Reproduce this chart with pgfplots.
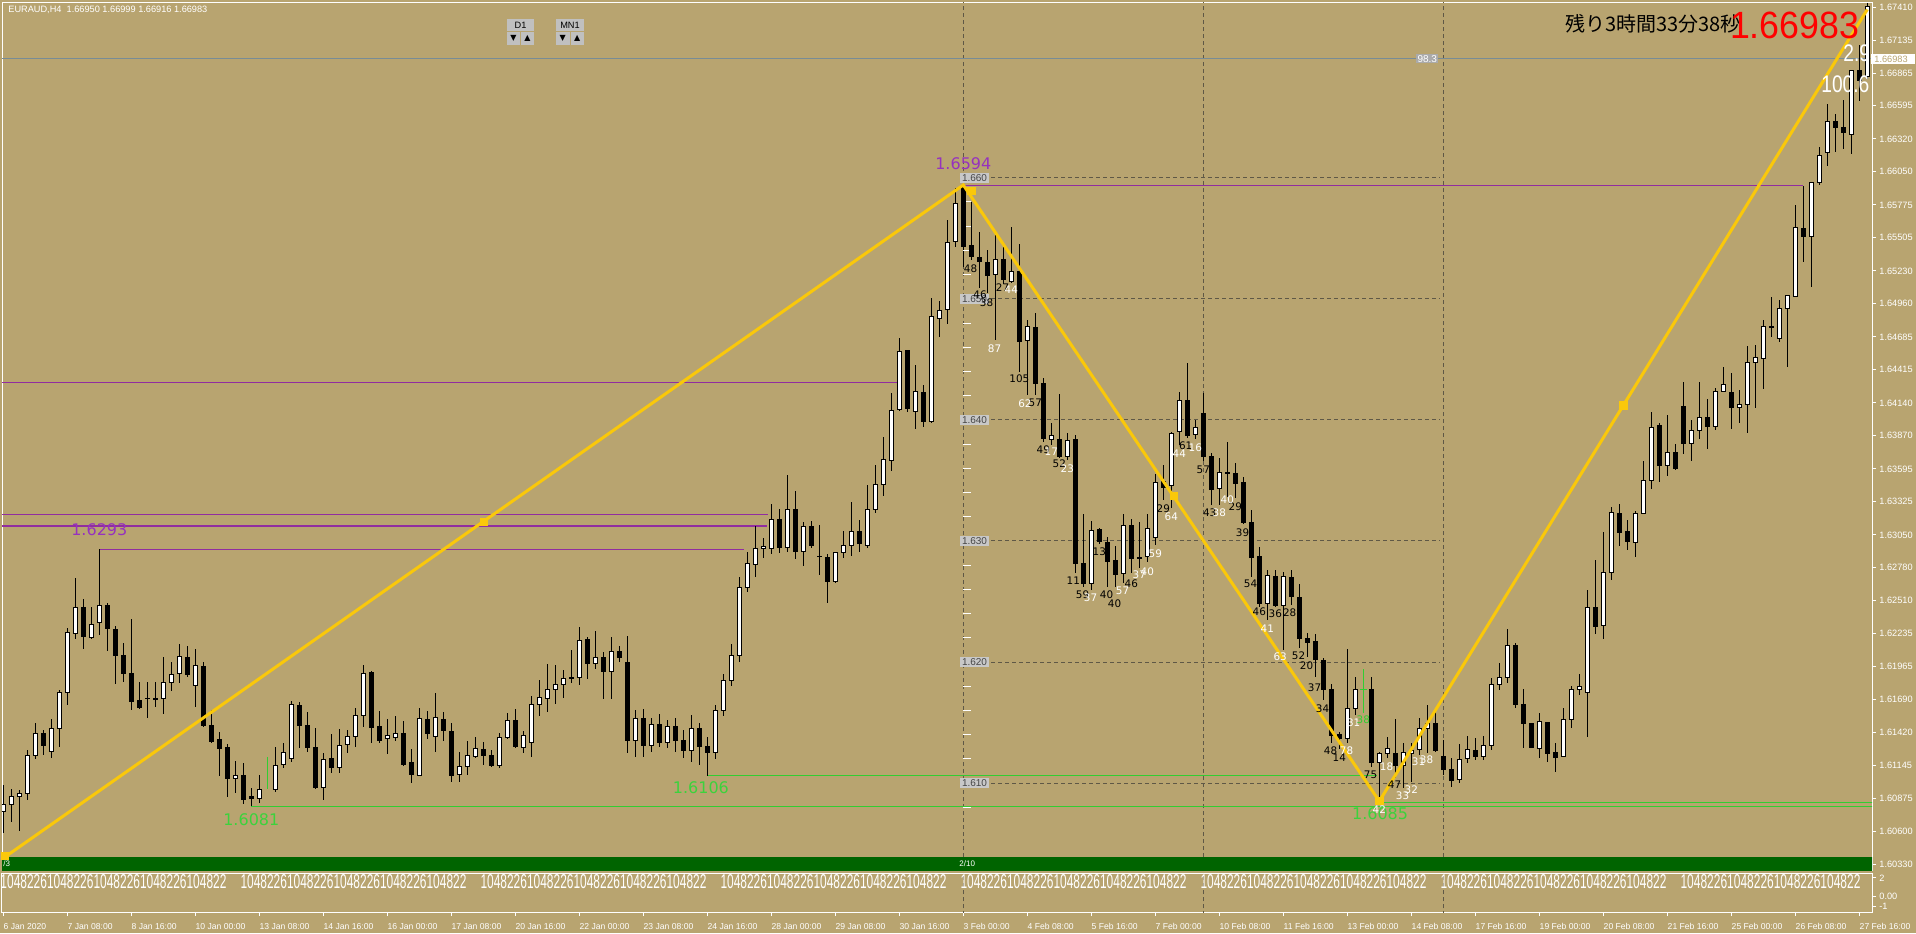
\documentclass[border=0pt]{standalone}
\usepackage{pgfplots}
\pgfplotsset{compat=1.18}
\usepackage{pgfplotstable}
\usepackage{fontspec}
\setmainfont{Liberation Sans}
\newfontfamily\jpfont{Noto Sans CJK JP}
\newfontfamily\dvfont{DejaVu Sans}
\definecolor{bg}{RGB}{184,164,112}
\definecolor{purp}{RGB}{145,45,160}
\definecolor{purpt}{RGB}{150,50,190}
\definecolor{lgreen}{RGB}{50,205,50}
\definecolor{gtext}{RGB}{60,210,60}
\definecolor{dgreen}{RGB}{0,100,0}
\definecolor{gold}{RGB}{250,200,10}
\definecolor{dashc}{RGB}{95,88,70}
\definecolor{bidc}{RGB}{120,140,150}
\definecolor{boxg}{RGB}{200,200,200}
\definecolor{boxt}{RGB}{70,70,70}
\definecolor{btn}{RGB}{192,192,192}

\newcommand\tfont{\fontsize{4.6pt}{5pt}\selectfont}
\newcommand\dfont{\fontsize{4.3pt}{5pt}\selectfont}
\newcommand\nfont{\dvfont\fontsize{5.2pt}{6pt}\selectfont}
\newcommand\bn[3]{\node[font=\nfont,text=black,inner sep=0pt] at (axis cs:#1,#2) {#3};}
\newcommand\wn[3]{\node[font=\nfont,text=white,inner sep=0pt] at (axis cs:#1,#2) {#3};}
\newcommand\gl[2]{\node[fill=boxg,text=boxt,font=\fontsize{5pt}{6pt}\selectfont,inner sep=0pt,minimum width=14.5pt,minimum height=5pt] at (axis cs:121.4,#1) {#2};}

\pgfplotstableread{
i O H L C
0 1.60764 1.60984 1.60585 1.60827
1 1.60827 1.60948 1.60681 1.60893
2 1.60888 1.60943 1.60607 1.60915
3 1.60915 1.61273 1.60860 1.61226
4 1.61226 1.61494 1.61196 1.61411
5 1.61411 1.61438 1.61232 1.61309
6 1.61262 1.61529 1.61204 1.61449
7 1.61449 1.61769 1.61301 1.61752
8 1.61747 1.62278 1.61645 1.62245
9 1.62237 1.62691 1.62187 1.62452
10 1.62452 1.62520 1.62105 1.62209
11 1.62204 1.62457 1.62187 1.62311
12 1.62328 1.62930 1.62223 1.62468
13 1.62468 1.62493 1.62094 1.62278
14 1.62270 1.62297 1.61816 1.62052
15 1.62050 1.62154 1.61838 1.61906
16 1.61906 1.62355 1.61604 1.61672
17 1.61678 1.61838 1.61609 1.61626
18 1.61697 1.61838 1.61535 1.61695
19 1.61697 1.61832 1.61626 1.61689
20 1.61700 1.62039 1.61571 1.61829
21 1.61832 1.61997 1.61763 1.61898
22 1.61901 1.62154 1.61829 1.62044
23 1.62039 1.62132 1.61879 1.61898
24 1.61807 1.62105 1.61626 1.61973
25 1.61967 1.62003 1.61466 1.61472
26 1.61477 1.61609 1.61334 1.61342
27 1.61356 1.61419 1.61059 1.61287
28 1.61295 1.61320 1.60888 1.61039
29 1.61039 1.61182 1.60921 1.61059
30 1.61059 1.61163 1.60827 1.60866
31 1.60888 1.60957 1.60810 1.60874
32 1.60874 1.61072 1.60833 1.60948
34 1.60948 1.61295 1.60929 1.61144
35 1.61155 1.61328 1.61122 1.61254
36 1.61204 1.61678 1.61171 1.61645
37 1.61637 1.61670 1.61287 1.61477
38 1.61472 1.61590 1.61260 1.61293
39 1.61295 1.61458 1.60954 1.60965
40 1.60965 1.61246 1.60860 1.61196
41 1.61204 1.61403 1.61086 1.61130
42 1.61130 1.61444 1.61086 1.61309
43 1.61320 1.61444 1.61251 1.61383
44 1.61383 1.61623 1.61301 1.61557
45 1.61557 1.61975 1.61466 1.61906
46 1.61915 1.61926 1.61334 1.61458
47 1.61466 1.61595 1.61334 1.61350
48 1.61369 1.61526 1.61237 1.61389
49 1.61375 1.61554 1.61350 1.61408
50 1.61411 1.61513 1.61141 1.61157
51 1.61171 1.61279 1.61003 1.61067
52 1.61064 1.61623 1.61058 1.61535
53 1.61526 1.61595 1.61369 1.61411
54 1.61383 1.61741 1.61259 1.61543
55 1.61521 1.61584 1.61350 1.61433
56 1.61430 1.61493 1.61011 1.61061
57 1.61072 1.61259 1.61011 1.61141
58 1.61141 1.61347 1.61067 1.61229
59 1.61218 1.61378 1.61204 1.61287
60 1.61279 1.61342 1.61149 1.61226
61 1.61229 1.61273 1.61135 1.61149
62 1.61149 1.61419 1.61130 1.61378
63 1.61375 1.61576 1.61361 1.61518
64 1.61513 1.61609 1.61292 1.61301
65 1.61295 1.61433 1.61246 1.61389
66 1.61334 1.61719 1.61218 1.61650
67 1.61650 1.61851 1.61557 1.61708
68 1.61697 1.61983 1.61590 1.61774
69 1.61774 1.61975 1.61650 1.61815
70 1.61815 1.61939 1.61705 1.61865
71 1.61865 1.62099 1.61824 1.61870
72 1.61873 1.62292 1.61810 1.62176
73 1.62187 1.62209 1.61857 1.61989
74 1.61989 1.62256 1.61942 1.62036
75 1.62038 1.62085 1.61692 1.61920
76 1.61920 1.62204 1.61692 1.62085
77 1.62088 1.62132 1.62003 1.62038
78 1.61997 1.62215 1.61251 1.61350
79 1.61350 1.61603 1.61212 1.61535
80 1.61537 1.61609 1.61212 1.61309
81 1.61309 1.61537 1.61256 1.61480
82 1.61480 1.61570 1.61298 1.61339
83 1.61339 1.61520 1.61290 1.61471
84 1.61471 1.61540 1.61256 1.61355
85 1.61355 1.61440 1.61207 1.61273
86 1.61273 1.61560 1.61174 1.61450
87 1.61450 1.61500 1.61150 1.61300
88 1.61300 1.61380 1.61060 1.61250
89 1.61250 1.61650 1.61200 1.61600
90 1.61600 1.61900 1.61550 1.61850
91 1.61850 1.62150 1.61800 1.62050
92 1.62050 1.62705 1.62000 1.62617
93 1.62617 1.62911 1.62581 1.62815
94 1.62807 1.63123 1.62705 1.62939
95 1.62939 1.63021 1.62856 1.62958
96 1.62939 1.63305 1.62897 1.63178
97 1.63178 1.63261 1.62903 1.62944
98 1.62944 1.63544 1.62911 1.63261
99 1.63261 1.63412 1.62848 1.62911
100 1.62911 1.63159 1.62793 1.63118
101 1.63123 1.63167 1.62939 1.62961
102 1.62875 1.63131 1.62718 1.62870
103 1.62864 1.62897 1.62490 1.62663
104 1.62663 1.62911 1.62650 1.62903
105 1.62903 1.63085 1.62856 1.62966
106 1.62966 1.63324 1.62875 1.63076
107 1.63082 1.63173 1.62911 1.62975
108 1.62961 1.63462 1.62939 1.63261
109 1.63261 1.63627 1.63233 1.63467
110 1.63467 1.63861 1.63374 1.63674
111 1.63668 1.64219 1.63580 1.64076
112 1.64087 1.64673 1.64076 1.64563
113 1.64569 1.64577 1.64062 1.64095
114 1.64068 1.64453 1.63922 1.64238
115 1.64227 1.64293 1.63944 1.63985
116 1.63985 1.65009 1.63977 1.64852
117 1.64838 1.64984 1.64681 1.64902
118 1.64913 1.65650 1.64797 1.65463
119 1.65477 1.65912 1.65430 1.65788
120 1.65920 1.65940 1.65265 1.65430
121 1.65444 1.65802 1.65320 1.65348
122 1.65342 1.65554 1.65092 1.65306
123 1.65301 1.65408 1.65050 1.65191
124 1.65202 1.65535 1.64659 1.65328
125 1.65328 1.65436 1.65127 1.65160
126 1.65141 1.65595 1.65127 1.65224
127 1.65229 1.65452 1.64398 1.64646
128 1.64659 1.64825 1.64205 1.64770
129 1.64764 1.64880 1.64205 1.64301
130 1.64301 1.64343 1.63820 1.63847
131 1.63839 1.63971 1.63792 1.63869
132 1.63839 1.64211 1.63682 1.63701
133 1.63701 1.63889 1.63668 1.63828
134 1.63839 1.63875 1.62732 1.62815
135 1.62815 1.63222 1.62622 1.62650
136 1.62650 1.63167 1.62595 1.63085
137 1.63096 1.63109 1.62980 1.62994
138 1.62986 1.63035 1.62622 1.62834
139 1.62842 1.62958 1.62622 1.62724
140 1.62732 1.63222 1.62650 1.63126
141 1.63131 1.63178 1.62732 1.62856
142 1.62864 1.63159 1.62774 1.62859
143 1.62870 1.63222 1.62829 1.63104
144 1.63030 1.63558 1.62966 1.63481
145 1.63495 1.63627 1.63338 1.63440
146 1.63454 1.63902 1.63269 1.63889
147 1.63902 1.64233 1.63792 1.64156
148 1.64156 1.64472 1.63847 1.63875
149 1.63883 1.63999 1.63839 1.63938
150 1.64054 1.64219 1.63663 1.63701
151 1.63701 1.63729 1.63297 1.63426
152 1.63434 1.63688 1.63297 1.63566
153 1.63566 1.63820 1.63365 1.63561
154 1.63558 1.63641 1.63352 1.63476
155 1.63481 1.63525 1.63140 1.63151
156 1.63151 1.63255 1.62705 1.62864
157 1.62875 1.62952 1.62457 1.62485
158 1.62485 1.62765 1.62347 1.62718
159 1.62710 1.62760 1.62457 1.62465
160 1.62465 1.62746 1.62099 1.62705
161 1.62699 1.62760 1.62471 1.62545
162 1.62534 1.62644 1.62113 1.62195
163 1.62195 1.62237 1.62044 1.62159
164 1.62168 1.62228 1.61879 1.62022
165 1.62016 1.62030 1.61686 1.61769
166 1.61774 1.61818 1.61328 1.61397
167 1.61405 1.61424 1.61287 1.61369
168 1.61369 1.62104 1.61328 1.61617
169 1.61617 1.61879 1.61562 1.61774
171 1.61769 1.61879 1.61135 1.61168
172 1.61171 1.61259 1.60850 1.61246
173 1.61246 1.61378 1.61204 1.61287
174 1.61246 1.61526 1.61039 1.61149
175 1.61149 1.61334 1.60956 1.61251
176 1.61246 1.61334 1.61011 1.61273
177 1.61278 1.61540 1.61232 1.61452
178 1.61452 1.61645 1.61246 1.61493
179 1.61493 1.61609 1.61259 1.61273
180 1.61218 1.61356 1.61067 1.61113
181 1.61108 1.61204 1.60970 1.61020
182 1.61031 1.61323 1.61003 1.61196
183 1.61204 1.61389 1.61163 1.61278
184 1.61273 1.61369 1.61190 1.61218
185 1.61218 1.61389 1.61190 1.61309
186 1.61309 1.61865 1.61273 1.61818
187 1.61818 1.61994 1.61769 1.61873
188 1.61873 1.62270 1.61824 1.62140
189 1.62135 1.62154 1.61617 1.61650
190 1.61650 1.61782 1.61295 1.61493
191 1.61488 1.61490 1.61287 1.61295
192 1.61287 1.61581 1.61212 1.61512
193 1.61501 1.61507 1.61177 1.61246
194 1.61251 1.61334 1.61094 1.61212
195 1.61218 1.61617 1.61212 1.61526
196 1.61526 1.61802 1.61460 1.61774
197 1.61774 1.61901 1.61727 1.61796
198 1.61749 1.62594 1.61383 1.62451
199 1.62451 1.62848 1.62231 1.62292
200 1.62300 1.63076 1.62195 1.62740
201 1.62740 1.63279 1.62680 1.63235
202 1.63229 1.63309 1.62955 1.63073
203 1.63078 1.63176 1.62925 1.62999
204 1.62984 1.63250 1.62866 1.63229
205 1.63229 1.63662 1.63220 1.63501
206 1.63501 1.64061 1.63427 1.63937
207 1.63952 1.63972 1.63486 1.63624
208 1.63624 1.64040 1.63539 1.63727
209 1.63727 1.63801 1.63589 1.63595
210 1.64111 1.64317 1.63721 1.63801
211 1.63801 1.64002 1.63662 1.63913
212 1.63913 1.64317 1.63840 1.64022
213 1.64022 1.64170 1.63757 1.63943
214 1.63943 1.64267 1.63913 1.64232
215 1.64232 1.64435 1.64229 1.64291
216 1.64223 1.64391 1.63922 1.64105
217 1.64105 1.64244 1.63978 1.64126
218 1.64126 1.64612 1.63890 1.64474
219 1.64474 1.64615 1.64096 1.64518
220 1.64509 1.64822 1.64258 1.64775
221 1.64769 1.65013 1.64689 1.64765
222 1.64674 1.64990 1.64645 1.64922
223 1.64922 1.65034 1.64435 1.65028
224 1.65019 1.65772 1.65019 1.65589
225 1.65580 1.65934 1.65306 1.65515
226 1.65515 1.65969 1.65099 1.65963
227 1.65963 1.66259 1.65940 1.66185
228 1.66208 1.66613 1.66096 1.66465
229 1.66465 1.66524 1.66214 1.66412
230 1.66415 1.66642 1.66235 1.66377
231 1.66356 1.66893 1.66199 1.66884
232 1.66884 1.67099 1.66636 1.66804
233 1.66840 1.67444 1.66813 1.67415
}\candles

\pgfplotsset{chart/.style={at={(1pt,-1pt)}, anchor=north west, width=935pt, height=434pt, scale only axis,
  xmin=-0.1625, xmax=233.5875, ymin=1.602818, ymax=1.674515}}

\begin{document}
\begin{tikzpicture}
\useasboundingbox (0,0) rectangle (958pt,-466.5pt);
\fill[bg] (0,0) rectangle (958pt,-466.5pt);

% ---------- main axis: grid, lines, wicks, price scale
\begin{axis}[chart,
  axis line style={white, line width=0.5pt},
  xtick=\empty,
  ytick={1.67410,1.67135,1.66865,1.66595,1.66320,1.66050,1.65775,1.65505,1.65230,1.64960,1.64685,1.64415,1.64140,1.63870,1.63595,1.63325,1.63050,1.62780,1.62510,1.62235,1.61965,1.61690,1.61420,1.61145,1.60875,1.60600,1.60330},
  yticklabels={1.67410,1.67135,1.66865,1.66595,1.66320,1.66050,1.65775,1.65505,1.65230,1.64960,1.64685,1.64415,1.64140,1.63870,1.63595,1.63325,1.63050,1.62780,1.62510,1.62235,1.61965,1.61690,1.61420,1.61145,1.60875,1.60600,1.60330},
  ytick pos=right, tick align=outside, major tick length=2pt,
  tick style={white, line width=0.5pt},
  yticklabel style={font=\tfont, text=white, anchor=west, inner sep=0pt, xshift=1.5pt},
]
% dark green bar
\addplot[fill=dgreen, draw=none] coordinates {(-1,1.6025) (-1,1.60389) (240,1.60389) (240,1.6025)} -- cycle;
% vertical dashed separators
\addplot[dashc, line width=0.5pt, dash pattern=on 2pt off 1.5pt] coordinates {(120,1.60389) (120,1.68)};
\addplot[dashc, line width=0.5pt, dash pattern=on 2pt off 1.5pt] coordinates {(150,1.60389) (150,1.68)};
\addplot[dashc, line width=0.5pt, dash pattern=on 2pt off 1.5pt] coordinates {(180,1.60389) (180,1.68)};
% horizontal dashed levels
\addplot[dashc, line width=0.5pt, dash pattern=on 2pt off 1.5pt] coordinates {(120,1.660) (179.6,1.660)};
\addplot[dashc, line width=0.5pt, dash pattern=on 2pt off 1.5pt] coordinates {(120,1.650) (179.6,1.650)};
\addplot[dashc, line width=0.5pt, dash pattern=on 2pt off 1.5pt] coordinates {(120,1.640) (179.6,1.640)};
\addplot[dashc, line width=0.5pt, dash pattern=on 2pt off 1.5pt] coordinates {(120,1.630) (179.6,1.630)};
\addplot[dashc, line width=0.5pt, dash pattern=on 2pt off 1.5pt] coordinates {(120,1.620) (179.6,1.620)};
\addplot[dashc, line width=0.5pt, dash pattern=on 2pt off 1.5pt] coordinates {(120,1.610) (179.6,1.610)};
% small white ticks on 3 Feb line
\addplot[white, only marks, mark=-, mark size=2pt, mark options={line width=0.5pt}] coordinates {
(120.45,1.658) (120.45,1.656) (120.45,1.654) (120.45,1.652) (120.45,1.648) (120.45,1.646) (120.45,1.644) (120.45,1.642)
(120.45,1.638) (120.45,1.636) (120.45,1.634) (120.45,1.632) (120.45,1.628) (120.45,1.626) (120.45,1.624) (120.45,1.622)
(120.45,1.618) (120.45,1.616) (120.45,1.614) (120.45,1.612) (120.45,1.608)};
% bid line
\addplot[bidc, line width=0.5pt] coordinates {(-1,1.66983) (240,1.66983)};
% purple levels
\addplot[purp, line width=0.5pt] coordinates {(-1,1.64309) (111.7,1.64309)};
\addplot[purp, line width=0.5pt] coordinates {(-1,1.63220) (95.6,1.63220)};
\addplot[purp, line width=1pt] coordinates {(-1,1.63126) (95.4,1.63126)};
\addplot[purp, line width=0.5pt] coordinates {(12,1.62930) (92.6,1.62930)};
\addplot[purp, line width=0.5pt] coordinates {(120,1.65940) (225,1.65940)};
% green levels
\addplot[lgreen, line width=0.5pt] coordinates {(31,1.60810) (240,1.60810)};
\addplot[lgreen, line width=0.5pt] coordinates {(88,1.61060) (171.7,1.61060)};
\addplot[lgreen, line width=0.5pt] coordinates {(172,1.60840) (240,1.60840)};
% wicks (high-low)
\addplot[draw=none, mark=none, forget plot, error bars/.cd, y dir=both, y explicit, error mark=none,
  error bar style={draw=black, line width=0.5pt, solid}]
  table[x=i, y expr={(\thisrow{H}+\thisrow{L})/2}, y error expr={(\thisrow{H}-\thisrow{L})/2}] {\candles};
\end{axis}

% ---------- candle bodies
\begin{axis}[chart, hide axis, ybar stacked, bar width=2.2pt]
\addplot[draw=none, fill=none] table[x=i, y expr={min(\thisrow{O},\thisrow{C})}] {\candles};
\addplot[fill=white, draw=black, line width=0.5pt] table[x=i, y expr={max(\thisrow{C}-\thisrow{O},0)}] {\candles};
\addplot[fill=black, draw=black, line width=0.5pt] table[x=i, y expr={max(\thisrow{O}-\thisrow{C},0)}] {\candles};
\end{axis}

% ---------- overlay: zigzag, labels, texts
\begin{axis}[chart, hide axis]
% green marker bars
\addplot[lgreen, line width=0.5pt] coordinates {(33,1.61218) (33,1.60948)};
\addplot[lgreen, line width=0.5pt] coordinates {(170,1.61939) (170,1.61581)};
\addplot[lgreen, line width=0.5pt] coordinates {(169.6,1.61775) (170.4,1.61775)};
% zigzag
\addplot[gold, line width=1.5pt] coordinates {(0,1.6038) (120,1.6594) (172,1.6085) (233,1.6739)};
\addplot[gold, only marks, mark=square*, mark size=1.8pt] coordinates {(0.2,1.6040) (60.1,1.6316) (121,1.6589) (146.3,1.6337) (172,1.6085) (202.5,1.6412)};
% gray level boxes
\gl{1.660}{1.660}
\gl{1.650}{1.650}
\gl{1.640}{1.640}
\gl{1.630}{1.630}
\gl{1.620}{1.620}
\gl{1.610}{1.610}
\node[fill={rgb,255:red,170;green,170;blue,170},text=white,font=\fontsize{5pt}{6pt}\selectfont,inner sep=0.6pt] at (axis cs:178,1.66983) {98.3};
% price labels
\node[text=purpt, font=\dvfont\fontsize{8pt}{9pt}\selectfont, inner sep=0pt] at (axis cs:120,1.66113) {1.6594};
\node[text=purpt, font=\dvfont\fontsize{8pt}{9pt}\selectfont, inner sep=0pt] at (axis cs:12,1.63090) {1.6293};
\node[text=gtext, font=\dvfont\fontsize{8pt}{9pt}\selectfont, inner sep=0pt] at (axis cs:31,1.60699) {1.6081};
\node[text=gtext, font=\dvfont\fontsize{8pt}{9pt}\selectfont, inner sep=0pt] at (axis cs:87.2,1.60959) {1.6106};
\node[text=gtext, font=\dvfont\fontsize{8pt}{9pt}\selectfont, inner sep=0pt] at (axis cs:172.1,1.60750) {1.6085};
% candle counts
\bn{120.9}{1.65251}{48}\bn{122.1}{1.65031}{46}\bn{122.9}{1.64968}{38}\bn{124.9}{1.65092}{27}
\bn{127}{1.64337}{105}\bn{129}{1.64142}{57}\bn{130}{1.63751}{49}\bn{132}{1.63635}{52}
\bn{133.75}{1.62672}{11}\bn{134.9}{1.62559}{59}\bn{137}{1.62911}{13}\bn{137.9}{1.62559}{40}
\bn{138.9}{1.62485}{40}\bn{141}{1.62650}{46}\bn{145}{1.63269}{29}\bn{147.8}{1.63787}{61}
\bn{150}{1.63591}{57}\bn{150.8}{1.63233}{43}\bn{154}{1.63283}{29}\bn{154.9}{1.63068}{39}
\bn{155.9}{1.62650}{54}\bn{157}{1.62416}{46}\bn{159}{1.62396}{36}\bn{160.8}{1.62407}{28}
\bn{161.9}{1.62049}{52}\bn{162.9}{1.61967}{20}\bn{163.9}{1.61791}{37}\bn{164.9}{1.61617}{34}
\bn{165.9}{1.61267}{48}\bn{167}{1.61212}{14}\bn{170.9}{1.61067}{75}\bn{173.9}{1.60984}{47}
\wn{126}{1.65078}{44}\wn{123.9}{1.64591}{87}\wn{127.7}{1.64136}{62}\wn{131}{1.63737}{17}
\wn{133}{1.63600}{23}\wn{135.9}{1.62534}{37}\wn{139.9}{1.62589}{57}\wn{142}{1.62724}{37}
\wn{143}{1.62746}{40}\wn{144}{1.62898}{59}\wn{146}{1.63200}{64}\wn{147}{1.63723}{44}
\wn{149}{1.63773}{16}\wn{152}{1.63233}{38}\wn{153}{1.63338}{40}\wn{158}{1.62278}{41}
\wn{159.6}{1.62044}{63}\wn{168.8}{1.61499}{31}\wn{167.9}{1.61267}{78}\wn{172.9}{1.61135}{18}
\wn{174.9}{1.60893}{33}\wn{176}{1.60948}{32}\wn{176.9}{1.61177}{31}\wn{177.9}{1.61190}{38}
\wn{172}{1.60777}{42}
\node[font=\nfont,text=lgreen,inner sep=0pt] at (axis cs:170,1.61521) {38};
% top-right texts
\node[anchor=base west, inner sep=0pt, font=\jpfont\fontsize{10pt}{11pt}\selectfont, text=black] at (axis cs:195.2,1.67212) {残り3時間33分38秒};
\node[anchor=base west, inner sep=0pt, font=\fontsize{19pt}{20pt}\selectfont, text=red] at (axis cs:215.8,1.67154) {\scalebox{0.94}[1]{1.66983}};
\node[anchor=base west, inner sep=0pt, font=\fontsize{12pt}{13pt}\selectfont, text=white] at (axis cs:229.96,1.66956) {\scalebox{0.8}[1]{2.9}};
\node[anchor=base west, inner sep=0pt, font=\fontsize{12pt}{13pt}\selectfont, text=white] at (axis cs:227.2,1.66708) {\scalebox{0.8}[1]{100.6}};
\end{axis}

% ---------- sub window with dates
\begin{axis}[at={(1pt,-436.5pt)}, anchor=north west, width=935pt, height=19.5pt, scale only axis,
  xmin=-0.1625, xmax=233.5875, ymin=-1.64, ymax=2.53,
  axis line style={white, line width=0.5pt},
  xtick={0,8,...,232},
  xticklabels={6 Jan 2020,7 Jan 08:00,8 Jan 16:00,10 Jan 00:00,13 Jan 08:00,14 Jan 16:00,16 Jan 00:00,17 Jan 08:00,20 Jan 16:00,22 Jan 00:00,23 Jan 08:00,24 Jan 16:00,28 Jan 00:00,29 Jan 08:00,30 Jan 16:00,3 Feb 00:00,4 Feb 08:00,5 Feb 16:00,7 Feb 00:00,10 Feb 08:00,11 Feb 16:00,13 Feb 00:00,14 Feb 08:00,17 Feb 16:00,19 Feb 00:00,20 Feb 08:00,21 Feb 16:00,25 Feb 00:00,26 Feb 08:00,27 Feb 16:00},
  xtick pos=left, ytick pos=right,
  ytick={2,0,-1}, yticklabels={2,0.00,-1},
  tick align=outside, major tick length=2pt, tick style={white, line width=0.5pt},
  xticklabel style={font=\dfont, text=white, anchor=north west, inner sep=0pt, yshift=-3.5pt},
  yticklabel style={font=\tfont, text=white, anchor=west, inner sep=0pt, xshift=1.5pt},
]
\addplot[dashc, line width=0.5pt, dash pattern=on 2pt off 1.5pt] coordinates {(120,-2) (120,3)};
\addplot[dashc, line width=0.5pt, dash pattern=on 2pt off 1.5pt] coordinates {(150,-2) (150,3)};
\addplot[dashc, line width=0.5pt, dash pattern=on 2pt off 1.5pt] coordinates {(180,-2) (180,3)};
\node[anchor=north west, inner sep=0pt, text=white] at (axis cs:-0.4,2.42) {\resizebox{113pt}{7pt}{1048226104822610482261048226104822}};
\node[anchor=north west, inner sep=0pt, text=white] at (axis cs:29.6,2.42) {\resizebox{113pt}{7pt}{1048226104822610482261048226104822}};
\node[anchor=north west, inner sep=0pt, text=white] at (axis cs:59.6,2.42) {\resizebox{113pt}{7pt}{1048226104822610482261048226104822}};
\node[anchor=north west, inner sep=0pt, text=white] at (axis cs:89.6,2.42) {\resizebox{113pt}{7pt}{1048226104822610482261048226104822}};
\node[anchor=north west, inner sep=0pt, text=white] at (axis cs:119.6,2.42) {\resizebox{113pt}{7pt}{1048226104822610482261048226104822}};
\node[anchor=north west, inner sep=0pt, text=white] at (axis cs:149.6,2.42) {\resizebox{113pt}{7pt}{1048226104822610482261048226104822}};
\node[anchor=north west, inner sep=0pt, text=white] at (axis cs:179.6,2.42) {\resizebox{113pt}{7pt}{1048226104822610482261048226104822}};
\node[anchor=north west, inner sep=0pt, text=white] at (axis cs:209.6,2.42) {\resizebox{90pt}{7pt}{104822610482261048226104822}};
\end{axis}

% ---------- decorations outside axes
\node[anchor=west, inner sep=0pt, text=white, font=\tfont] at (4pt,-5pt) {EURAUD,H4\ \ 1.66950 1.66999 1.66916 1.66983};
% D1 / MN1 buttons
\fill[btn] (253.5pt,-9.5pt) rectangle (267pt,-15.5pt);
\node[font=\fontsize{4.6pt}{5pt}\selectfont, text=black, inner sep=0pt] at (260.25pt,-12.5pt) {D1};
\fill[btn] (253.5pt,-16pt) rectangle (260pt,-22.5pt);
\fill[btn] (260.5pt,-16pt) rectangle (267pt,-22.5pt);
\node[font=\dvfont\fontsize{4pt}{5pt}\selectfont, inner sep=0pt] at (256.75pt,-19.25pt) {▼};
\node[font=\dvfont\fontsize{4pt}{5pt}\selectfont, inner sep=0pt] at (263.75pt,-19.25pt) {▲};
\fill[btn] (278pt,-9.5pt) rectangle (292pt,-15.5pt);
\node[font=\fontsize{4.6pt}{5pt}\selectfont, text=black, inner sep=0pt] at (285pt,-12.5pt) {MN1};
\fill[btn] (278pt,-16pt) rectangle (284.75pt,-22.5pt);
\fill[btn] (285.25pt,-16pt) rectangle (292pt,-22.5pt);
\node[font=\dvfont\fontsize{4pt}{5pt}\selectfont, inner sep=0pt] at (281.4pt,-19.25pt) {▼};
\node[font=\dvfont\fontsize{4pt}{5pt}\selectfont, inner sep=0pt] at (288.6pt,-19.25pt) {▲};
% green bar labels
\node[anchor=west, inner sep=0pt, text=white, font=\fontsize{4pt}{5pt}\selectfont] at (1.5pt,-432pt) {/3};
\node[anchor=west, inner sep=0pt, text=white, font=\fontsize{4pt}{5pt}\selectfont] at (479.5pt,-432pt) {2/10};
% bid price box
\fill[white] (935.5pt,-27pt) rectangle (957.5pt,-32.2pt);
\node[anchor=west, inner sep=0pt, text=bg, font=\tfont] at (937pt,-29.6pt) {1.66983};
\end{tikzpicture}
\end{document}
